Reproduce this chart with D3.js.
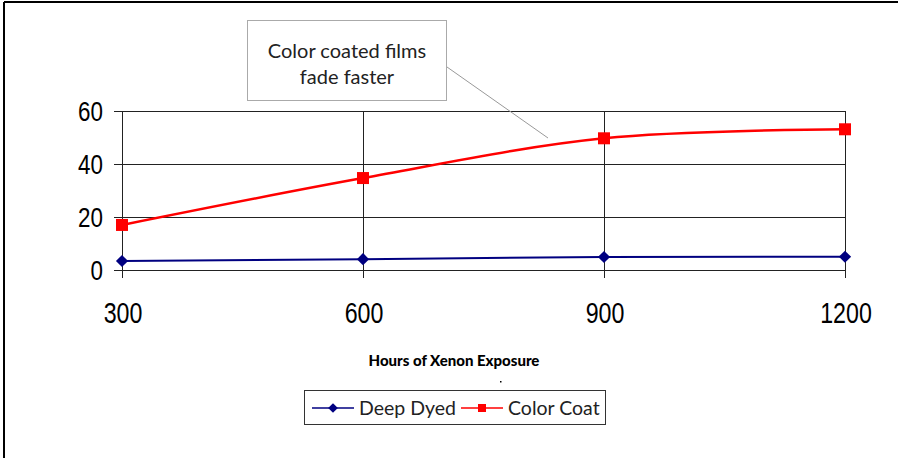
<!DOCTYPE html>
<html>
<head>
<meta charset="utf-8">
<script src="https://cdn.jsdelivr.net/npm/d3@7"></script>
<style>
  html, body { margin: 0; padding: 0; background: #fff; }
  svg { display: block; }
</style>
</head>
<body>
<svg id="chart" width="898" height="458"></svg>
<script>
const hours = [300, 600, 900, 1200];
const deepDyed = [3.4, 4.1, 4.9, 5.0];
const colorCoat = [17.0, 34.7, 49.7, 53.1];
const yTicks = [0, 20, 40, 60];
const seriesNames = ["Deep Dyed", "Color Coat"];
const annotationLines = ["Color coated films", "fade faster"];
const xTitle = "Hours of Xenon Exposure";

const svg = d3.select("#chart");
const narrow = "'Liberation Sans', Arial, sans-serif";
const geo = "Lato, 'Open Sans', sans-serif";

// Outer frame (top and left only visible)
svg.append("line").attr("x1", 4).attr("x2", 898).attr("y1", 2).attr("y2", 2)
  .attr("stroke", "#000").attr("stroke-width", 2);
svg.append("line").attr("x1", 4).attr("x2", 4).attr("y1", 2).attr("y2", 458)
  .attr("stroke", "#000").attr("stroke-width", 2);

const x = d3.scaleLinear().domain([300, 1200]).range([122, 845]);
const y = d3.scaleLinear().domain([0, 60]).range([270, 111]);

const grid = svg.append("g").attr("shape-rendering", "crispEdges");
grid.selectAll("line.h").data(yTicks).join("line")
  .attr("x1", x(300) - 8).attr("x2", x(1200))
  .attr("y1", d => Math.round(y(d)) + 0.5).attr("y2", d => Math.round(y(d)) + 0.5)
  .attr("stroke", "#222").attr("stroke-width", 1);
grid.selectAll("line.v").data(hours).join("line")
  .attr("x1", d => Math.round(x(d)) + 0.5).attr("x2", d => Math.round(x(d)) + 0.5)
  .attr("y1", y(60)).attr("y2", y(0) + 8)
  .attr("stroke", "#222").attr("stroke-width", 1);

// Y tick labels (condensed)
svg.append("g").selectAll("text").data(yTicks).join("text")
  .attr("transform", d => `translate(103,${y(d) + 10}) scale(0.8,1)`)
  .attr("text-anchor", "end")
  .attr("font-family", narrow).attr("font-size", 28).attr("fill", "#000")
  .text(d => d);

// X tick labels (condensed)
svg.append("g").selectAll("text").data(hours).join("text")
  .attr("transform", d => `translate(${x(d) + 1},323) scale(0.8,1)`)
  .attr("text-anchor", "middle")
  .attr("font-family", narrow).attr("font-size", 29).attr("fill", "#000")
  .text(d => d);

// X title
svg.append("text").attr("x", 454).attr("y", 366)
  .attr("text-anchor", "middle")
  .attr("font-family", geo).attr("font-weight", 900).attr("font-size", 15)
  .attr("fill", "#000").text(xTitle);
svg.append("rect").attr("x", 500).attr("y", 381).attr("width", 1.5).attr("height", 1.5).attr("fill", "#000");

// Lines
const blueData = hours.map((h, i) => [h, deepDyed[i]]);
const redData = hours.map((h, i) => [h, colorCoat[i]]);
svg.append("path").datum(blueData)
  .attr("fill", "none").attr("stroke", "#000080").attr("stroke-width", 2)
  .attr("d", d3.line().x(d => x(d[0])).y(d => y(d[1])));
svg.append("path").datum(redData)
  .attr("fill", "none").attr("stroke", "#ff0000").attr("stroke-width", 2.5)
  .attr("d", d3.line().x(d => x(d[0])).y(d => y(d[1])).curve(d3.curveCardinal.tension(0)));

// Markers
const diamond = d3.symbol().type(d3.symbolDiamond2).size(95);
svg.append("g").selectAll("path").data(blueData).join("path")
  .attr("transform", d => `translate(${x(d[0])},${y(d[1])})`)
  .attr("d", diamond).attr("fill", "#000080");
svg.append("g").selectAll("rect").data(redData).join("rect")
  .attr("x", d => x(d[0]) - 6).attr("y", d => y(d[1]) - 6)
  .attr("width", 12).attr("height", 12).attr("fill", "#ff0000");

// Annotation callout
svg.append("line").attr("x1", 447).attr("y1", 67).attr("x2", 548).attr("y2", 138)
  .attr("stroke", "#999").attr("stroke-width", 1);
svg.append("rect").attr("x", 247.5).attr("y", 20.5).attr("width", 199).attr("height", 80)
  .attr("fill", "#fff").attr("stroke", "#aaa").attr("stroke-width", 1);
svg.append("g").selectAll("text").data(annotationLines).join("text")
  .attr("x", 347).attr("y", (d, i) => 58 + i * 26)
  .attr("text-anchor", "middle")
  .attr("font-family", geo).attr("font-size", 20).attr("fill", "#222")
  .text(d => d);

// Legend
const lg = svg.append("g");
lg.append("rect").attr("x", 304.5).attr("y", 390.5).attr("width", 301).attr("height", 34)
  .attr("fill", "#fff").attr("stroke", "#333").attr("stroke-width", 1);
const legendItems = [
  { name: seriesNames[0], color: "#000080", x0: 312, tx: 359, shape: "diamond" },
  { name: seriesNames[1], color: "#ff0000", x0: 461, tx: 508, shape: "square" }
];
legendItems.forEach(it => {
  lg.append("line").attr("x1", it.x0).attr("x2", it.x0 + 42).attr("y1", 408).attr("y2", 408)
    .attr("stroke", it.color).attr("stroke-width", 1.5);
  if (it.shape === "diamond") {
    lg.append("path").attr("transform", `translate(${it.x0 + 21},408)`)
      .attr("d", d3.symbol().type(d3.symbolDiamond2).size(60)).attr("fill", it.color);
  } else {
    lg.append("rect").attr("x", it.x0 + 17).attr("y", 404).attr("width", 8).attr("height", 8).attr("fill", it.color);
  }
  lg.append("text").attr("x", it.tx).attr("y", 415)
    .attr("font-family", geo).attr("font-size", 19.5).attr("fill", "#222").text(it.name);
});
</script>
</body>
</html>
